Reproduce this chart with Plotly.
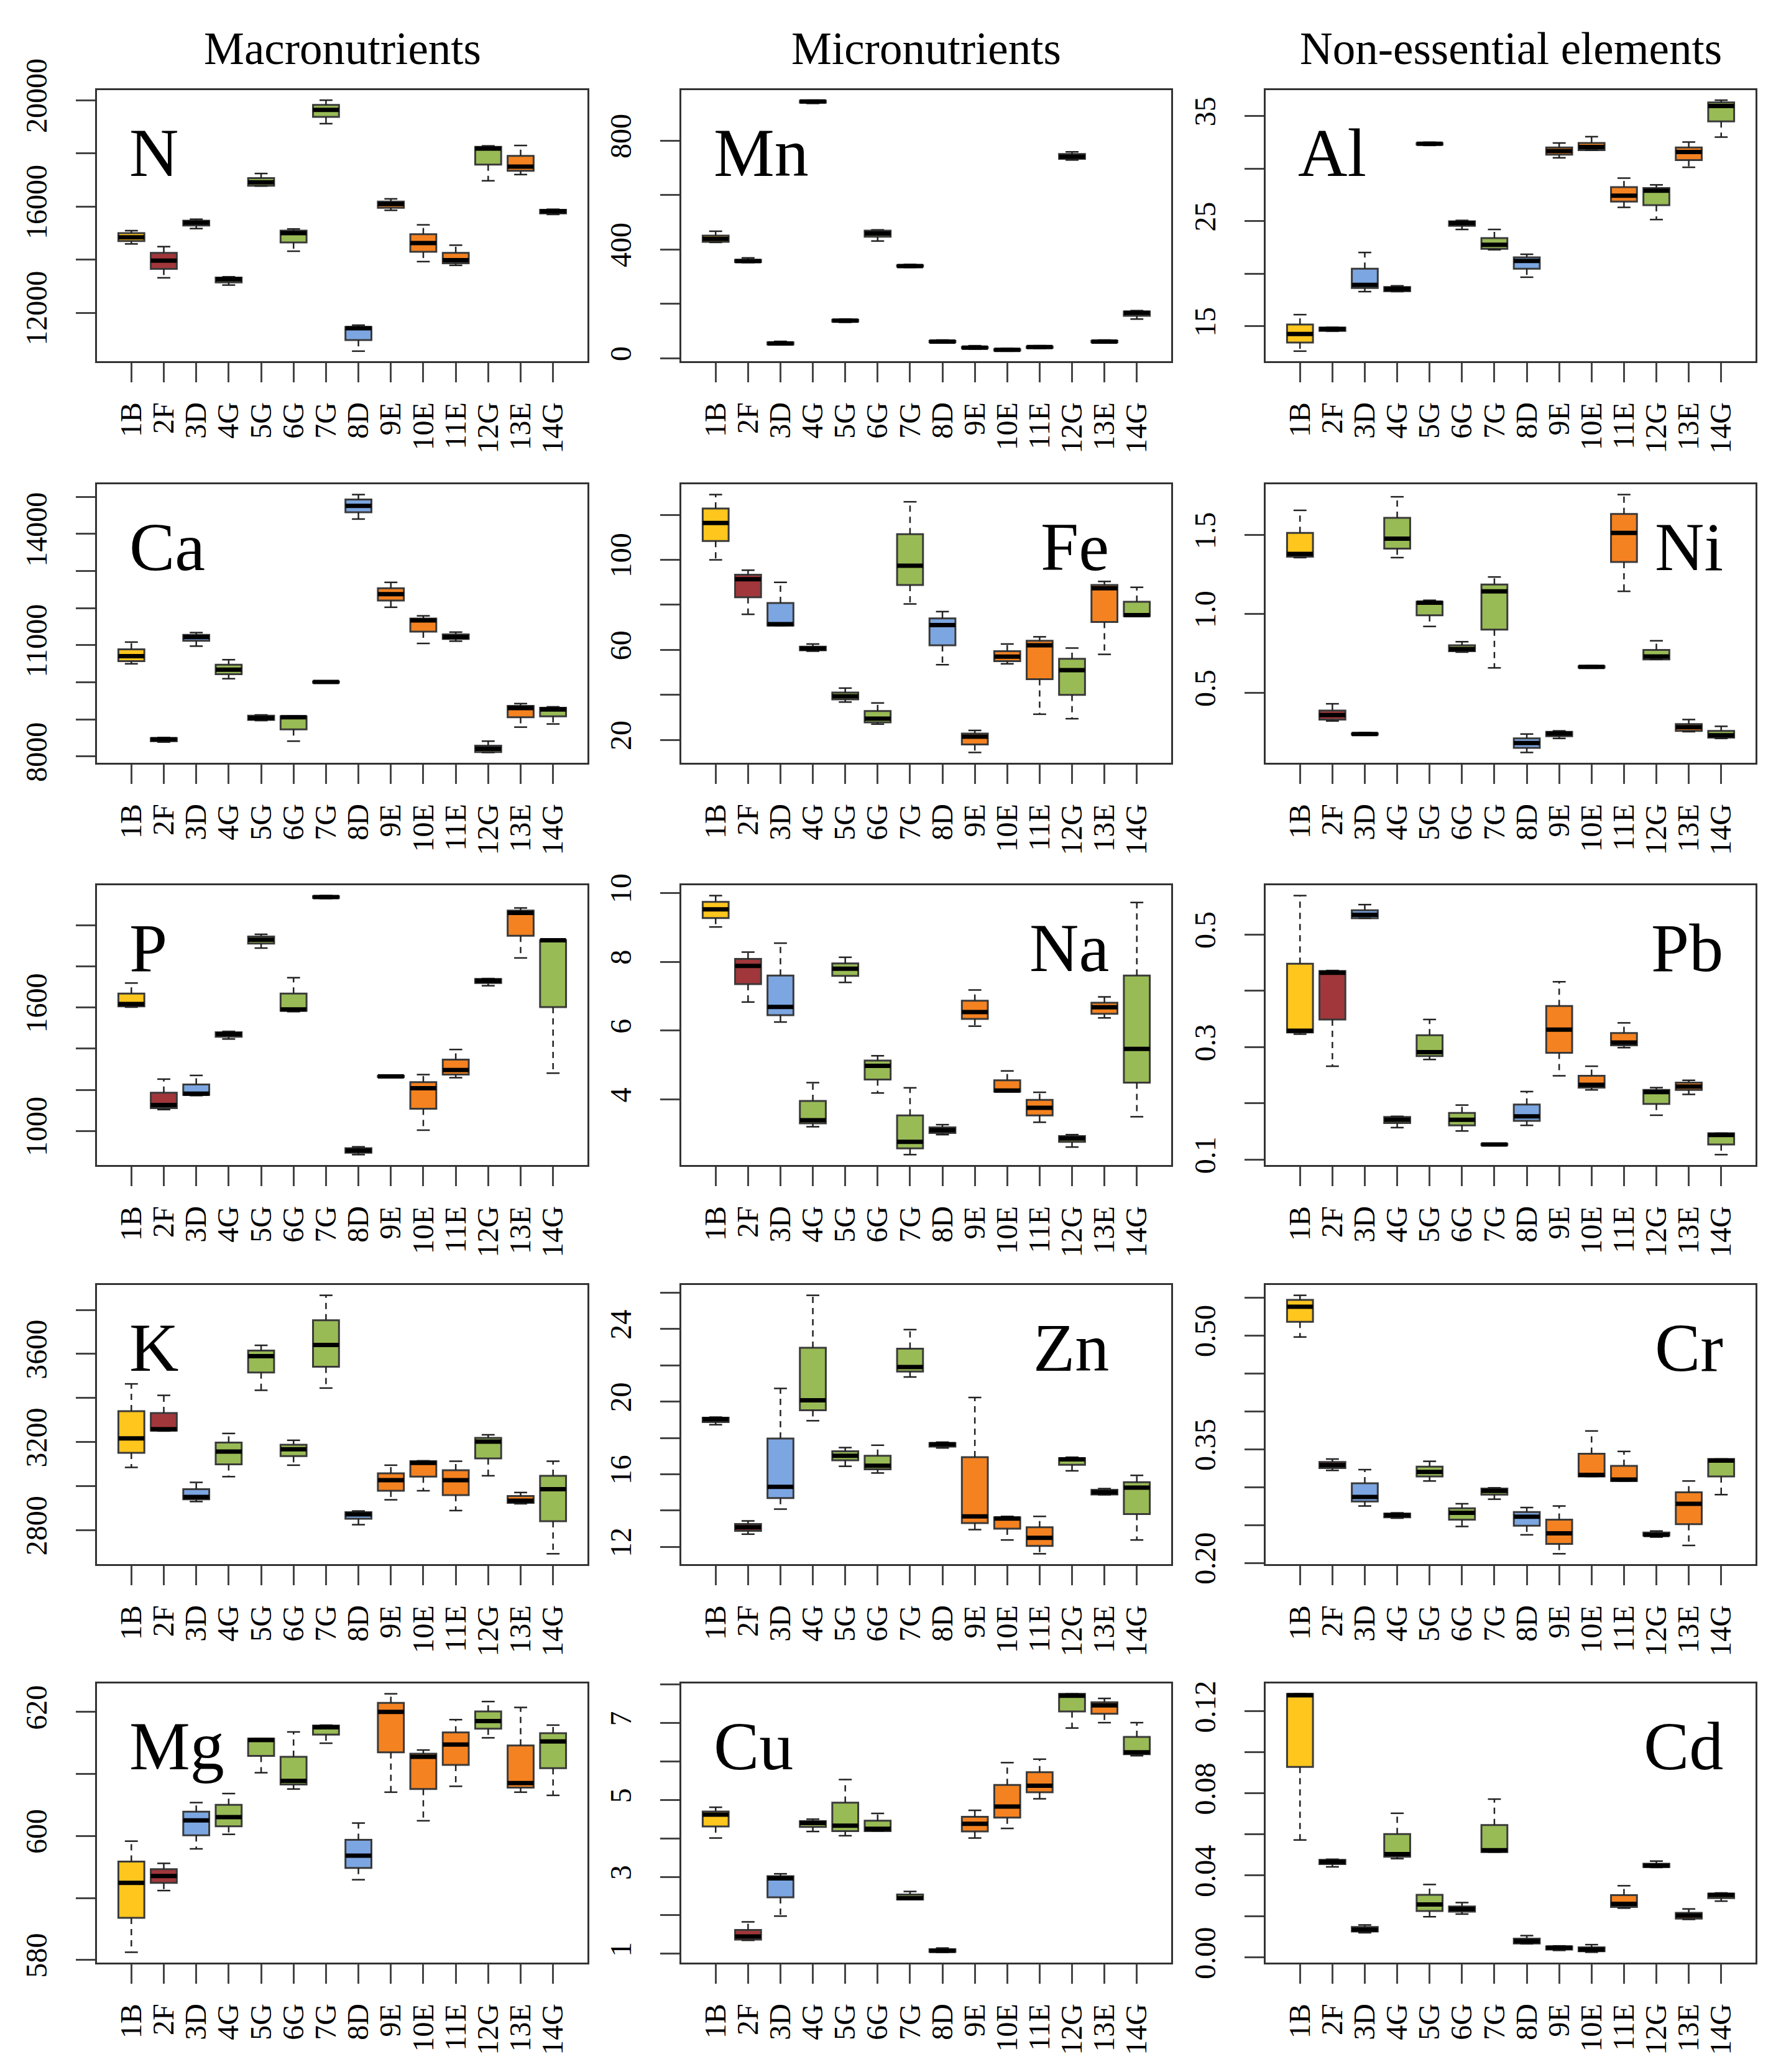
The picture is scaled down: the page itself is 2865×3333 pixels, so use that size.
import plotly.graph_objects as go

# sampling sites (x categories), colour follows the letter suffix
sites = ["1B", "2F", "3D", "4G", "5G", "6G", "7G", "8D", "9E", "10E", "11E", "12G", "13E", "14G"]
group_colors = {"B": "#FFC61E", "F": "#A1373B", "D": "#7CA6E2", "G": "#99BB55", "E": "#F58220"}

# box statistics per site: (lower whisker, Q1, median, Q3, upper whisker)
N = [(14589, 14698, 14839, 14995, 15089), (13314, 13650, 13963, 14252, 14487),
     (15167, 15284, 15386, 15464, 15519), (13040, 13142, 13259, 13322, 13353),
     (16770, 16778, 16911, 17068, 17240), (14315, 14643, 14995, 15089, 15152),
     (19116, 19374, 19632, 19820, 20000), (10553, 10968, 11414, 11460, 11531),
     (15855, 15949, 16090, 16184, 16286), (13924, 14291, 14620, 14956, 15308),
     (13783, 13861, 13979, 14252, 14542), (16966, 17576, 18178, 18240, 18280),
     (17200, 17341, 17498, 17904, 18295), (15699, 15738, 15816, 15871, 15894)]
Mn = [(426, 428, 439, 451, 467), (352, 354, 357, 362, 369), (49, 51, 54, 58, 62),
      (937, 940, 944, 947, 949), (132, 135, 138, 141, 144), (431, 447, 459, 469, 472),
      (334, 337, 339, 342, 345), (56, 59, 61, 64, 67), (34, 37, 39, 41, 46),
      (26, 28, 31, 33, 36), (36, 38, 41, 43, 46), (729, 733, 741, 751, 759),
      (56, 59, 61, 64, 67), (144, 156, 167, 172, 175)]
Al = [(12.64, 13.46, 14.27, 15.17, 16.11), (14.53, 14.57, 14.74, 14.87, 14.90),
      (18.30, 18.64, 18.94, 20.48, 22.02), (18.30, 18.34, 18.55, 18.73, 18.85),
      (32.20, 32.28, 32.35, 32.42, 32.50), (24.21, 24.55, 24.81, 24.98, 25.07),
      (22.28, 22.37, 22.75, 23.39, 24.21), (19.67, 20.48, 21.21, 21.55, 21.85),
      (31.02, 31.32, 31.66, 32.00, 32.43), (31.75, 31.75, 32.05, 32.43, 33.03),
      (26.31, 26.86, 27.42, 28.23, 29.09), (25.15, 26.52, 27.89, 28.15, 28.45),
      (30.12, 30.80, 31.58, 32.00, 32.52), (32.99, 34.49, 35.94, 36.29, 36.50)]
Ca = [(10500, 10573, 10707, 10890, 11085), (8390, 8415, 8463, 8500, 8512),
      (10976, 11122, 11220, 11280, 11341), (10098, 10220, 10341, 10476, 10610),
      (8970, 8988, 9037, 9100, 9122), (8415, 8732, 9061, 9085, 9090),
      (9985, 9995, 10012, 10025, 10035), (14402, 14585, 14756, 14927, 15061),
      (12024, 12207, 12378, 12537, 12695), (11049, 11366, 11671, 11720, 11793),
      (11110, 11171, 11220, 11293, 11354), (8110, 8122, 8207, 8293, 8415),
      (8793, 9061, 9305, 9366, 9427), (8878, 9085, 9268, 9317, 9341)]
Fe = [(100.0, 108.4, 116.4, 122.8, 129.0), (75.8, 83.4, 91.4, 93.4, 95.4),
      (70.8, 70.8, 71.4, 80.8, 90.0), (59.4, 59.8, 60.6, 61.4, 62.6),
      (36.8, 38.0, 39.4, 41.0, 43.0), (27.0, 27.8, 29.4, 32.8, 36.4),
      (80.4, 88.8, 97.4, 111.4, 125.8), (53.4, 62.0, 71.0, 74.0, 77.0),
      (14.4, 18.0, 21.4, 22.8, 24.2), (53.8, 55.0, 57.0, 59.4, 62.6),
      (31.4, 47.0, 62.0, 64.0, 65.8), (29.4, 40.0, 51.0, 56.0, 60.8),
      (58.0, 72.4, 87.4, 88.8, 90.4), (75.0, 75.0, 75.4, 81.4, 87.8)]
Ni = [(1.357, 1.363, 1.380, 1.514, 1.657), (0.320, 0.329, 0.357, 0.386, 0.429),
      (0.229, 0.233, 0.237, 0.241, 0.246), (1.357, 1.414, 1.477, 1.609, 1.743),
      (0.920, 0.991, 1.071, 1.077, 1.086), (0.757, 0.763, 0.777, 0.800, 0.823),
      (0.657, 0.900, 1.143, 1.186, 1.234), (0.120, 0.149, 0.180, 0.209, 0.237),
      (0.209, 0.223, 0.240, 0.251, 0.257), (0.655, 0.659, 0.663, 0.667, 0.671),
      (1.143, 1.329, 1.514, 1.634, 1.757), (0.711, 0.711, 0.729, 0.771, 0.829),
      (0.252, 0.257, 0.280, 0.300, 0.329), (0.209, 0.214, 0.229, 0.257, 0.286)]
P = [(1602, 1606, 1617, 1668, 1719), (1104, 1111, 1126, 1186, 1252),
     (1172, 1175, 1181, 1226, 1270), (1447, 1458, 1471, 1480, 1484),
     (1889, 1911, 1929, 1945, 1956), (1580, 1584, 1591, 1668, 1745),
     (2130, 2133, 2137, 2141, 2144), (885, 894, 905, 916, 923),
     (1259, 1262, 1265, 1268, 1270), (1004, 1108, 1208, 1237, 1274),
     (1259, 1274, 1296, 1347, 1396), (1706, 1719, 1730, 1739, 1741),
     (1841, 1949, 2060, 2071, 2084), (1281, 1602, 1927, 1927, 1927)]
Na = [(9.01, 9.27, 9.52, 9.74, 9.92), (6.83, 7.35, 7.88, 8.08, 8.28),
      (6.25, 6.45, 6.69, 7.60, 8.54), (3.21, 3.31, 3.40, 3.96, 4.49),
      (7.40, 7.59, 7.80, 7.95, 8.13), (4.19, 4.58, 4.98, 5.13, 5.27),
      (2.40, 2.58, 2.77, 3.54, 4.34), (2.98, 3.03, 3.11, 3.19, 3.27),
      (6.13, 6.34, 6.54, 6.87, 7.18), (4.23, 4.23, 4.26, 4.56, 4.83),
      (3.34, 3.54, 3.76, 3.99, 4.21), (2.62, 2.77, 2.87, 2.94, 2.98),
      (6.37, 6.49, 6.68, 6.81, 6.98), (3.50, 4.49, 5.47, 7.60, 9.72)]
Pb = [(0.323, 0.326, 0.329, 0.448, 0.569), (0.266, 0.349, 0.432, 0.435, 0.436),
      (0.529, 0.529, 0.535, 0.543, 0.553), (0.157, 0.165, 0.171, 0.176, 0.177),
      (0.278, 0.284, 0.291, 0.321, 0.349), (0.151, 0.161, 0.171, 0.183, 0.197),
      (0.125, 0.126, 0.127, 0.128, 0.129), (0.161, 0.169, 0.177, 0.198, 0.221),
      (0.249, 0.290, 0.331, 0.373, 0.416), (0.224, 0.228, 0.233, 0.249, 0.266),
      (0.299, 0.303, 0.308, 0.325, 0.343), (0.179, 0.199, 0.220, 0.224, 0.228),
      (0.216, 0.224, 0.230, 0.237, 0.241), (0.109, 0.127, 0.144, 0.147, 0.147)]
K = [(3085, 3151, 3217, 3340, 3464), (3250, 3252, 3258, 3332, 3412),
     (2930, 2940, 2951, 2986, 3017), (3043, 3099, 3157, 3198, 3239),
     (3435, 3516, 3590, 3615, 3639), (3095, 3136, 3167, 3188, 3208),
     (3445, 3542, 3641, 3753, 3866), (2825, 2852, 2872, 2882, 2887),
     (2938, 2979, 3027, 3058, 3095), (2979, 3043, 3105, 3113, 3115),
     (2889, 2959, 3027, 3072, 3113), (3047, 3126, 3202, 3219, 3233),
     (2920, 2924, 2934, 2955, 2971), (2693, 2841, 2986, 3047, 3113)]
Zn = [(18.73, 18.88, 19.03, 19.12, 19.15), (12.70, 12.88, 13.08, 13.26, 13.43),
      (14.08, 14.69, 15.31, 17.97, 20.73), (18.95, 19.53, 20.08, 22.97, 25.86),
      (16.44, 16.77, 17.02, 17.27, 17.47), (16.07, 16.27, 16.47, 17.02, 17.60),
      (21.36, 21.66, 21.91, 22.92, 23.97), (17.45, 17.52, 17.65, 17.72, 17.77),
      (12.95, 13.31, 13.68, 16.94, 20.23), (12.38, 13.00, 13.56, 13.63, 13.68),
      (11.62, 12.05, 12.50, 13.08, 13.68), (16.19, 16.52, 16.82, 16.89, 16.94),
      (14.87, 14.89, 15.01, 15.14, 15.21), (12.38, 13.81, 15.26, 15.56, 15.94)]
Cr = [(0.498, 0.518, 0.538, 0.547, 0.553), (0.322, 0.325, 0.329, 0.333, 0.337),
      (0.275, 0.281, 0.287, 0.305, 0.323), (0.259, 0.260, 0.263, 0.265, 0.266),
      (0.308, 0.314, 0.320, 0.327, 0.334), (0.248, 0.257, 0.266, 0.272, 0.278),
      (0.284, 0.290, 0.295, 0.298, 0.299), (0.237, 0.249, 0.261, 0.267, 0.273),
      (0.212, 0.225, 0.239, 0.257, 0.275), (0.314, 0.314, 0.316, 0.344, 0.374),
      (0.308, 0.308, 0.310, 0.328, 0.347), (0.234, 0.236, 0.237, 0.240, 0.242),
      (0.223, 0.251, 0.278, 0.293, 0.308), (0.290, 0.314, 0.335, 0.337, 0.337)]
Mg = [(581.24, 586.80, 592.43, 595.87, 599.16), (591.19, 592.43, 593.53, 594.63, 595.58),
      (597.92, 600.11, 602.52, 603.91, 605.38), (600.26, 601.57, 603.04, 605.01, 606.84),
      (610.20, 612.91, 615.47, 615.69, 615.69), (607.57, 608.30, 608.89, 612.76, 616.78),
      (614.96, 616.35, 617.52, 617.81, 617.88), (592.94, 594.85, 596.82, 599.38, 602.08),
      (607.06, 613.49, 620.00, 621.46, 622.93), (602.45, 607.57, 612.76, 613.27, 613.86),
      (608.01, 611.45, 614.74, 616.71, 618.76), (615.83, 617.30, 618.54, 620.08, 621.68),
      (607.06, 607.79, 608.52, 614.59, 620.73), (606.55, 610.93, 615.25, 616.57, 617.88)]
Cu = [(4.01, 4.31, 4.62, 4.70, 4.81), (1.35, 1.37, 1.45, 1.62, 1.83),
      (1.98, 2.47, 2.96, 3.02, 3.08), (4.18, 4.30, 4.40, 4.45, 4.50),
      (4.07, 4.19, 4.33, 4.93, 5.53), (4.19, 4.19, 4.25, 4.46, 4.65),
      (2.41, 2.41, 2.45, 2.54, 2.62), (1.04, 1.05, 1.08, 1.12, 1.15),
      (4.01, 4.18, 4.38, 4.56, 4.73), (4.26, 4.54, 4.83, 5.39, 5.97),
      (5.03, 5.20, 5.37, 5.72, 6.06), (6.87, 7.30, 7.71, 7.76, 7.76),
      (7.01, 7.24, 7.46, 7.54, 7.64), (6.15, 6.19, 6.24, 6.64, 7.01)]
Cd = [(0.0573, 0.0929, 0.1278, 0.1285, 0.1285), (0.0442, 0.0456, 0.0466, 0.0476, 0.0479),
      (0.0121, 0.0127, 0.0136, 0.0149, 0.0159), (0.0482, 0.0491, 0.0504, 0.0602, 0.0703),
      (0.0199, 0.0227, 0.0259, 0.0306, 0.0356), (0.0212, 0.0224, 0.0237, 0.0249, 0.0268),
      (0.0514, 0.0514, 0.0523, 0.0646, 0.0772), (0.0067, 0.0069, 0.0079, 0.0092, 0.0107),
      (0.0035, 0.0039, 0.0048, 0.0054, 0.0057), (0.0026, 0.0031, 0.0039, 0.0050, 0.0063),
      (0.0241, 0.0247, 0.0262, 0.0304, 0.0350), (0.0439, 0.0441, 0.0448, 0.0457, 0.0470),
      (0.0186, 0.0190, 0.0205, 0.0218, 0.0237), (0.0275, 0.0290, 0.0305, 0.0312, 0.0315)]

# y ticks: all tick positions, and the ones that carry a label
N_ticks, N_labels = [12000, 14000, 16000, 18000, 20000], ["12000", "", "16000", "", "20000"]
Mn_ticks, Mn_labels = [0, 200, 400, 600, 800], ["0", "", "400", "", "800"]
Al_ticks, Al_labels = [15, 20, 25, 30, 35], ["15", "", "25", "", "35"]
Ca_ticks = [8000, 9000, 10000, 11000, 12000, 13000, 14000, 15000]
Ca_labels = ["8000", "", "", "11000", "", "", "14000", ""]
Fe_ticks, Fe_labels = [20, 40, 60, 80, 100, 120], ["20", "", "60", "", "100", ""]
Ni_ticks, Ni_labels = [0.5, 1.0, 1.5], ["0.5", "1.0", "1.5"]
P_ticks, P_labels = [1000, 1200, 1400, 1600, 1800, 2000], ["1000", "", "", "1600", "", ""]
Na_ticks, Na_labels = [4, 6, 8, 10], ["4", "6", "8", "10"]
Pb_ticks, Pb_labels = [0.1, 0.2, 0.3, 0.4, 0.5], ["0.1", "", "0.3", "", "0.5"]
K_ticks, K_labels = [2800, 3000, 3200, 3400, 3600, 3800], ["2800", "", "3200", "", "3600", ""]
Zn_ticks, Zn_labels = [12, 14, 16, 18, 20, 22, 24, 26], ["12", "", "16", "", "20", "", "24", ""]
Cr_ticks = [0.20, 0.25, 0.30, 0.35, 0.40, 0.45, 0.50, 0.55]
Cr_labels = ["0.20", "", "", "0.35", "", "", "0.50", ""]
Mg_ticks, Mg_labels = [580, 590, 600, 610, 620], ["580", "", "600", "", "620"]
Cu_ticks, Cu_labels = [1, 2, 3, 4, 5, 6, 7, 8], ["1", "", "3", "", "5", "", "7", ""]
Cd_ticks = [0.00, 0.02, 0.04, 0.06, 0.08, 0.10, 0.12]
Cd_labels = ["0.00", "", "0.04", "", "0.08", "", "0.12"]

column_titles = ["Macronutrients", "Micronutrients", "Non-essential elements"]

# panels in reading order (row by row); last entry = where the element name sits
panels = [
    ("N", N, N_ticks, N_labels, "left"), ("Mn", Mn, Mn_ticks, Mn_labels, "left"),
    ("Al", Al, Al_ticks, Al_labels, "left"),
    ("Ca", Ca, Ca_ticks, Ca_labels, "left"), ("Fe", Fe, Fe_ticks, Fe_labels, "right"),
    ("Ni", Ni, Ni_ticks, Ni_labels, "right"),
    ("P", P, P_ticks, P_labels, "left"), ("Na", Na, Na_ticks, Na_labels, "right"),
    ("Pb", Pb, Pb_ticks, Pb_labels, "right"),
    ("K", K, K_ticks, K_labels, "left"), ("Zn", Zn, Zn_ticks, Zn_labels, "right"),
    ("Cr", Cr, Cr_ticks, Cr_labels, "right"),
    ("Mg", Mg, Mg_ticks, Mg_labels, "left"), ("Cu", Cu, Cu_ticks, Cu_labels, "left"),
    ("Cd", Cd, Cd_ticks, Cd_labels, "right"),
]

W, H = 2865, 3333
col_px = [(148, 937), (1088, 1876), (2028, 2816)]
row_px = [(137, 573), (771, 1219), (1416, 1866), (2059, 2508), (2700, 3149)]
FONT = "Liberation Serif"

fig = go.Figure()
layout = {}
annotations = []
xpos = list(range(1, len(sites) + 1))

for k, (name, stats, ticks, labels, side) in enumerate(panels):
    r, c = divmod(k, 3)
    ax = "" if k == 0 else str(k + 1)
    xref, yref = "x" + ax, "y" + ax
    lo = [s[0] for s in stats]
    q1 = [s[1] for s in stats]
    med = [s[2] for s in stats]
    q3 = [s[3] for s in stats]
    hi = [s[4] for s in stats]

    # boxes, one trace per colour group
    for g, col in group_colors.items():
        idx = [i for i, s in enumerate(sites) if s.endswith(g)]
        fig.add_trace(go.Box(
            x=[xpos[i] for i in idx], q1=[q1[i] for i in idx], median=[med[i] for i in idx],
            q3=[q3[i] for i in idx], lowerfence=[q1[i] for i in idx],
            upperfence=[q3[i] for i in idx], width=0.8, whiskerwidth=0,
            fillcolor=col, line=dict(color="#3a3a3a", width=3),
            boxpoints=False, hoverinfo="skip", xaxis=xref, yaxis=yref))

    # whiskers (dashed), staples and medians
    wx, wy, sx, sy, mx, my = [], [], [], [], [], []
    for i in range(len(sites)):
        p = xpos[i]
        if hi[i] > q3[i]:
            wx += [p, p, None]; wy += [q3[i], hi[i], None]
        if lo[i] < q1[i]:
            wx += [p, p, None]; wy += [q1[i], lo[i], None]
        sx += [p - 0.2, p + 0.2, None, p - 0.2, p + 0.2, None]
        sy += [hi[i], hi[i], None, lo[i], lo[i], None]
        mx += [p - 0.4, p + 0.4, None]; my += [med[i], med[i], None]
    fig.add_trace(go.Scatter(x=wx, y=wy, mode="lines", hoverinfo="skip",
                             line=dict(color="#222222", width=2.5, dash="10px,8px"),
                             xaxis=xref, yaxis=yref))
    fig.add_trace(go.Scatter(x=sx, y=sy, mode="lines", hoverinfo="skip",
                             line=dict(color="#222222", width=2.5), xaxis=xref, yaxis=yref))
    fig.add_trace(go.Scatter(x=mx, y=my, mode="lines", hoverinfo="skip",
                             line=dict(color="black", width=7), xaxis=xref, yaxis=yref))

    ymin, ymax = min(lo), max(hi)
    pad = 0.04 * (ymax - ymin)
    x0, x1 = col_px[c]
    y0, y1 = row_px[r]
    n = len(sites)
    layout["xaxis" + ax] = dict(
        domain=[x0 / W, x1 / W], anchor=yref, range=[0.5 - 0.04 * n, n + 0.5 + 0.04 * n],
        tickvals=xpos, ticktext=sites, tickangle=-90, ticks="outside", ticklen=31,
        tickwidth=3, tickcolor="#444444", ticklabelstandoff=13, automargin=False,
        showline=True, mirror=True, linecolor="#333333", linewidth=3,
        showgrid=False, zeroline=False, tickfont=dict(family=FONT, size=48, color="black"))
    layout["yaxis" + ax] = dict(
        domain=[1 - y1 / H, 1 - y0 / H], anchor=xref, range=[ymin - pad, ymax + pad],
        tickvals=ticks, ticktext=labels, tickangle=-90, ticks="outside", ticklen=31,
        tickwidth=3, tickcolor="#444444", ticklabelstandoff=28, automargin=False,
        showline=True, mirror=True, linecolor="#333333", linewidth=3,
        showgrid=False, zeroline=False, tickfont=dict(family=FONT, size=48, color="black"))

    if side == "left":
        lx, anchor = 50 / (x1 - x0), "left"
    elif c == 1:
        lx, anchor = 1 - 98 / (x1 - x0), "right"
    else:
        lx, anchor = 1 - 50 / (x1 - x0), "right"
    annotations.append(dict(
        text=name, x=lx, y=1 - 101 / (y1 - y0), xref=xref + " domain", yref=yref + " domain",
        xanchor=anchor, yanchor="middle", showarrow=False,
        font=dict(family=FONT, size=110, color="black")))

for c, title in enumerate(column_titles):
    x0, x1 = col_px[c]
    annotations.append(dict(
        text=title, x=(x0 + x1) / 2 / W, y=1 - 71 / H, xref="paper", yref="paper",
        xanchor="center", yanchor="middle", showarrow=False,
        font=dict(family=FONT, size=73, color="black")))

fig.update_layout(
    width=W, height=H, margin=dict(l=0, r=0, t=0, b=0, autoexpand=False),
    paper_bgcolor="white", plot_bgcolor="white", showlegend=False,
    boxmode="overlay", annotations=annotations, **layout)

fig.write_html("out.html")
